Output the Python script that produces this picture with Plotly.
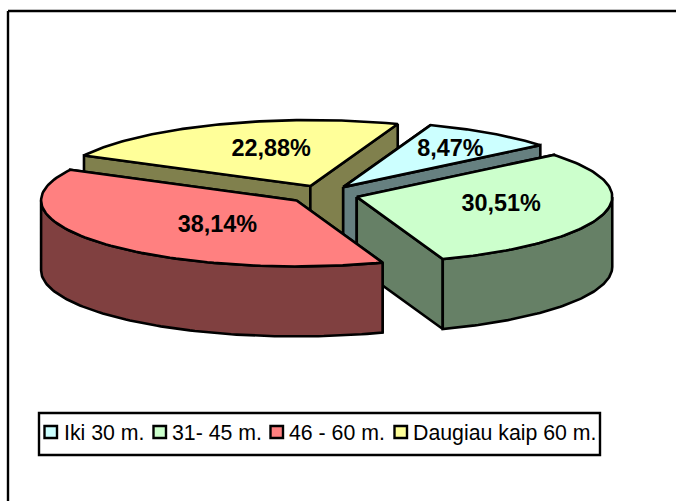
import numpy as np
import plotly.graph_objects as go

categories = ["Iki 30 m.", "31- 45 m.", "46 - 60 m.", "Daugiau kaip 60 m."]
values = [8.47, 30.51, 38.14, 22.88]
top_colors = ["#CCFFFF", "#CCFFCC", "#FF8080", "#FFFF99"]
side_colors = ["#668080", "#668066", "#804040", "#80804D"]
draw_order = [3, 0, 1, 2]

W, H = 676, 501
CX, CY, RX, RY, DEPTH_PX = 323.0, 194.5, 255.5, 66.0, 70.0
DEPTH = DEPTH_PX / RY
FIRST_ANGLE = 20.0
EXPLODE = 0.137
LW = 2.6
# label shift from slice apex, in disc units
label_shift = [(0.42, 0.56), (0.565, -0.125), (-0.310, -0.395), (-0.153, 0.54)]
legend_swatch_px = [44.5, 153.5, 270.5, 394.5]
legend_text_px = [64, 172, 289, 413]
LEGEND_TOP_PX = 411

edges = FIRST_ANGLE + 3.6 * np.concatenate([[0], np.cumsum(values)])


def arc(a, b, cu, cv, n=90):
    t = np.radians(np.linspace(a, b, n))
    return cu + np.sin(t), cv + np.cos(t)


def poly(u, v, color):
    return go.Scatter(
        x=np.append(u, u[0]), y=np.append(v, v[0]), mode="lines", fill="toself",
        fillcolor=color, line=dict(color="black", width=LW), hoverinfo="skip",
        showlegend=False,
    )


fig = go.Figure()
centers = []
for a, b in zip(edges[:-1], edges[1:]):
    mid = np.radians((a + b) / 2)
    centers.append((EXPLODE * np.sin(mid), EXPLODE * np.cos(mid)))

for i in draw_order:
    a, b = edges[i], edges[i + 1]
    cu, cv = centers[i]
    # radial walls
    for ang in (a, b):
        t = np.radians(ang)
        eu, ev = cu + np.sin(t), cv + np.cos(t)
        fig.add_trace(poly(np.array([cu, eu, eu, cu]),
                           np.array([cv, ev, ev - DEPTH, cv - DEPTH]), side_colors[i]))
    # visible rim
    ra, rb = max(a, 90), min(b, 270)
    if rb > ra:
        u, v = arc(ra, rb, cu, cv)
        fig.add_trace(poly(np.concatenate([u, u[::-1]]),
                           np.concatenate([v, v[::-1] - DEPTH]), side_colors[i]))
    # top face
    u, v = arc(a, b, cu, cv)
    fig.add_trace(poly(np.concatenate([[cu], u]), np.concatenate([[cv], v]), top_colors[i]))

fig.add_trace(go.Scatter(
    x=[centers[i][0] + label_shift[i][0] for i in range(4)],
    y=[centers[i][1] + label_shift[i][1] for i in range(4)],
    mode="text",
    text=[f"{v:.2f}%".replace(".", ",") for v in values],
    textposition="middle center",
    textfont=dict(family="Liberation Sans", size=23.4, color="black"),
    texttemplate="<b>%{text}</b>",
    hoverinfo="skip", showlegend=False,
))

legend_layout = {}
for i, name in enumerate(categories):
    key = "legend" if i == 0 else f"legend{i + 1}"
    # the legend's own key sits too far from its text, so the visible keys are drawn as shapes below
    fig.add_trace(go.Scatter(
        x=[None], y=[None], mode="markers", name=name, legend=key,
        marker=dict(symbol="square", size=12, color="rgba(0,0,0,0)", line=dict(width=0)),
    ))
    legend_layout[key] = dict(
        x=(legend_text_px[i] - 40) / W, y=1 - LEGEND_TOP_PX / H,
        xanchor="left", yanchor="top", bgcolor="rgba(0,0,0,0)", borderwidth=0,
        font=dict(family="Liberation Sans", size=21.3, color="black"),
        itemwidth=30,
    )


def px(x):
    return x / W


def py(y):
    return 1 - y / H


black = dict(color="black", width=2.4)
shapes = [
    dict(type="line", xref="paper", yref="paper", x0=px(8), x1=1, y0=py(11), y1=py(11), line=black),
    dict(type="line", xref="paper", yref="paper", x0=px(8), x1=px(8), y0=py(11), y1=0, line=black),
    dict(type="rect", xref="paper", yref="paper", x0=px(39), x1=px(600), y0=py(413), y1=py(455),
         line=black, fillcolor="white"),
]
for i, sx in enumerate(legend_swatch_px):
    shapes.append(dict(type="rect", xref="paper", yref="paper", x0=px(sx), x1=px(sx + 12.5),
                       y0=py(426), y1=py(438), line=black, fillcolor=top_colors[i]))

fig.update_layout(
    width=W, height=H, margin=dict(l=0, r=0, t=0, b=0), autosize=False,
    paper_bgcolor="white", plot_bgcolor="white", showlegend=True, shapes=shapes,
    xaxis=dict(visible=False, range=[-CX / RX, (W - CX) / RX], fixedrange=True),
    yaxis=dict(visible=False, range=[(CY - H) / RY, CY / RY], fixedrange=True),
    **legend_layout,
)
fig.write_html("out.html", post_script="document.body.style.margin='0';", config={"displayModeBar": False})
